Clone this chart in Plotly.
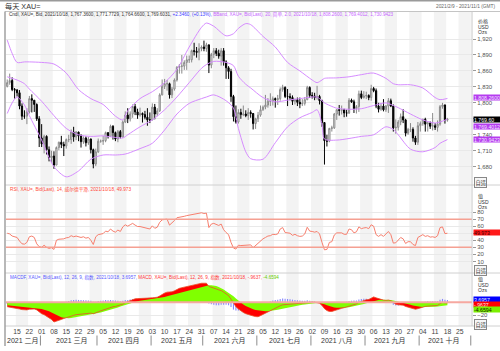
import pandas as pd
import plotly.graph_objects as go

# ---------------- data ----------------
DATES = pd.bdate_range("2021-02-09", "2021-10-18")  # trading days

OPEN = [1831,1838,1842,1825,1824,1819,1794,1775,1775,1783,
        1808,1805,1797,1770,1734,1723,1737,1712,1697,1700,
        1683,1716,1726,1722,1719,1731,1731,1745,1736,1745,
        1738,1727,1734,1725,1732,1712,1685,1708,1728,1728,
        1729,1744,1737,1756,1744,1732,1746,1736,1764,1777,
        1770,1779,1793,1783,1777,1780,1778,1773,1768,1768,
        1792,1779,1785,1815,1831,1836,1836,1815,1826,1843,
        1867,1869,1869,1876,1881,1881,1898,1897,1895,1902,
        1905,1902,1909,1871,1891,1898,1893,1888,1898,1877,
        1866,1859,1812,1774,1764,1782,1778,1779,1776,1782,
        1780,1761,1770,1777,1787,1792,1796,1803,1803,1808,
        1806,1808,1825,1829,1812,1812,1810,1803,1806,1801,
        1798,1799,1806,1829,1814,1813,1810,1812,1804,1763,
        1729,1728,1752,1753,1779,1787,1786,1787,1781,1781,
        1805,1802,1789,1793,1817,1810,1813,1814,1810,1827,
        1823,1794,1788,1794,1787,1794,1804,1794,1753,1754,
        1764,1774,1768,1743,1750,1750,1734,1726,1757,1761,
        1769,1760,1762,1756,1757,1754,1760,1793,1796,1767.36]
HIGH = [1844,1855,1848,1828,1826,1824,1799,1786,1790,1813,
        1816,1805,1799,1775,1760,1740,1739,1718,1710,1709,
        1718,1727,1738,1727,1733,1740,1750,1755,1747,1746,
        1741,1737,1737,1736,1733,1714,1714,1733,1731,1738,
        1746,1745,1759,1758,1746,1749,1749,1767,1784,1790,
        1784,1797,1798,1789,1791,1782,1785,1790,1782,1799,
        1798,1790,1818,1844,1845,1843,1838,1830,1846,1869,
        1873,1890,1880,1889,1889,1900,1913,1905,1912,1908,
        1917,1913,1910,1894,1903,1903,1900,1903,1903,1880,
        1869,1864,1815,1795,1788,1789,1795,1786,1790,1786,
        1781,1772,1783,1795,1795,1815,1809,1818,1812,1810,
        1815,1829,1834,1831,1826,1818,1814,1808,1810,1810,
        1807,1811,1832,1831,1820,1819,1832,1815,1806,1764,
        1740,1753,1757,1781,1788,1796,1795,1789,1787,1809,
        1808,1806,1796,1823,1823,1822,1821,1816,1834,1830,
        1827,1800,1799,1807,1796,1809,1808,1797,1769,1768,
        1780,1788,1770,1753,1762,1754,1738,1764,1765,1770,
        1772,1765,1765,1781,1762,1767,1796,1800,1797,1771.77]
LOW = [1829,1834,1822,1808,1812,1788,1768,1770,1760,1780,
       1782,1783,1766,1717,1717,1705,1703,1690,1687,1676,
       1683,1711,1715,1700,1714,1726,1723,1727,1730,1728,
       1716,1723,1718,1721,1705,1677,1681,1706,1725,1721,
       1726,1733,1736,1731,1728,1726,1733,1735,1762,1762,
       1765,1772,1777,1770,1774,1763,1769,1757,1762,1767,
       1769,1775,1783,1814,1826,1823,1808,1809,1823,1840,
       1855,1855,1862,1862,1875,1876,1889,1885,1880,1897,
       1897,1896,1856,1865,1884,1888,1883,1870,1870,1845,
       1845,1802,1765,1761,1761,1770,1775,1773,1768,1772,
       1750,1751,1764,1774,1785,1788,1791,1794,1795,1791,
       1796,1804,1821,1809,1794,1805,1796,1797,1794,1790,
       1794,1795,1805,1809,1808,1805,1806,1797,1755,1684,
       1718,1726,1746,1751,1768,1776,1778,1773,1774,1779,
       1800,1781,1780,1783,1807,1808,1807,1805,1804,1820,
       1790,1782,1785,1784,1783,1781,1792,1746,1742,1748,
       1758,1762,1737,1740,1745,1727,1721,1721,1746,1757,
       1746,1746,1751,1748,1749,1746,1757,1789,1761,1764.66]
CLOSE = [1838,1842,1825,1824,1819,1794,1775,1775,1783,1808,
         1805,1797,1770,1734,1723,1737,1712,1697,1700,1683,
         1716,1726,1722,1719,1731,1731,1745,1736,1745,1738,
         1727,1734,1725,1732,1712,1685,1708,1728,1728,1729,
         1744,1737,1756,1744,1732,1746,1736,1764,1777,1770,
         1779,1793,1783,1777,1780,1778,1773,1768,1768,1792,
         1779,1785,1815,1831,1836,1836,1815,1826,1843,1867,
         1869,1869,1876,1881,1881,1898,1897,1895,1902,1905,
         1902,1909,1871,1891,1898,1893,1888,1898,1877,1866,
         1859,1812,1774,1764,1782,1778,1779,1776,1782,1780,
         1761,1770,1777,1787,1792,1796,1803,1803,1808,1806,
         1808,1825,1829,1812,1812,1810,1803,1806,1801,1798,
         1799,1806,1829,1814,1813,1810,1812,1804,1763,1729,
         1728,1752,1753,1779,1787,1786,1787,1781,1781,1805,
         1802,1789,1793,1817,1810,1813,1814,1810,1827,1823,
         1794,1788,1794,1787,1794,1804,1794,1753,1754,1764,
         1774,1768,1743,1750,1750,1734,1726,1757,1761,1769,
         1760,1762,1756,1757,1754,1760,1793,1796,1768,1769.60]

# Bollinger band (20, 2.0) values read at sample trading-day positions
BB_IDX = [0, 2, 4, 7, 9, 14, 19, 24, 29, 34, 39, 44, 47, 49, 54, 59, 64, 69, 74, 79,
          81, 84, 89, 92, 94, 97, 99, 104, 109, 114, 119, 124, 126, 128, 129, 134, 139,
          144, 149, 154, 157, 159, 164, 169, 174, 176, 179]
BB_UPPER = [1918, 1893, 1876, 1877, 1877, 1876, 1873, 1856, 1825, 1808, 1797, 1775, 1768,
            1785, 1808, 1821, 1838, 1863, 1905, 1942, 1950, 1944, 1926, 1930, 1940, 1949,
            1947, 1925, 1905, 1876, 1860, 1843, 1838, 1843, 1846, 1847, 1849, 1853, 1856,
            1846, 1836, 1834, 1834, 1828, 1810, 1806, 1808.26]
BB_MID = [1849, 1846, 1843, 1836, 1826, 1803, 1776, 1752, 1740, 1737, 1738, 1735, 1734,
          1740, 1755, 1768, 1787, 1811, 1838, 1865, 1872, 1878, 1876, 1870, 1850, 1835,
          1828, 1810, 1802, 1805, 1808, 1811, 1811, 1804, 1800, 1790, 1788, 1789, 1795,
          1800, 1795, 1791, 1779, 1768, 1762, 1764, 1769.40]
BB_LOWER = [1780, 1800, 1811, 1796, 1776, 1730, 1680, 1661, 1672, 1694, 1702, 1702, 1703,
            1705, 1714, 1724, 1749, 1779, 1799, 1808, 1811, 1815, 1804, 1790, 1752, 1708,
            1695, 1694, 1725, 1755, 1772, 1782, 1787, 1760, 1732, 1730, 1733, 1737, 1740,
            1755, 1750, 1740, 1713, 1708, 1716, 1724, 1730.94]

RSI = [50, 49, 46, 45.5, 44, 39, 35, 34.5, 37, 45,
       46, 44, 35, 31, 30, 33, 30, 28.5, 29.5, 27,
       40, 41.5, 41.5, 42, 43.5, 44, 46.5, 45, 46, 45,
       44, 45, 43, 44, 40, 34, 45, 48, 48.5, 49.5,
       53, 52, 56, 53, 51.5, 54.5, 52.5, 59, 62, 60,
       62, 64, 61.5, 59.5, 59.5, 58.5, 57.5, 56, 56, 60.5,
       57, 58.5, 65.5, 69, 70, 70, 61.5, 64.5, 68, 72,
       72.5, 72.5, 74, 75, 75.5, 77, 77, 77, 78, 79,
       78, 78.5, 58, 63, 64, 62.5, 61, 63, 55, 51,
       48, 37, 29, 27.5, 33, 32.5, 33, 32.5, 34, 33.5,
       29.5, 33, 36, 40, 42, 44, 46, 46.5, 48.5, 48,
       49, 56, 58, 51, 51, 50, 47, 48.5, 46.5, 45.5,
       46, 49, 58.5, 53, 52.5, 51.5, 52.5, 49, 37, 26.5,
       27, 37, 38, 47.5, 50.5, 50, 50.5, 48.5, 48.5, 56,
       55, 50.5, 52, 59, 56.5, 57.5, 58, 56.5, 62, 60,
       48, 45.5, 48, 45.5, 48.5, 52.5, 48, 36, 36.5, 40.5,
       44, 42, 35.5, 38, 38, 34, 32.5, 44, 45.5, 48,
       45.5, 46.5, 44.5, 45, 44, 46.5, 58, 59, 49.5, 49.973]

MACD = [-7.0, -7.5, -8.5, -9.0, -9.5, -10.5, -11.5, -12.0, -12.0, -11.0,
        -10.5, -10.5, -12.0, -15.0, -18.0, -19.5, -22.0, -25.0, -27.0, -31.0,
        -30.0, -28.5, -27.0, -25.5, -24.0, -23.0, -21.5, -20.5, -19.5, -19.0,
        -18.5, -18.0, -17.5, -17.0, -17.0, -18.0, -17.0, -15.0, -13.5, -12.0,
        -10.5, -9.5, -8.0, -7.0, -6.5, -5.5, -5.0, -3.0, -0.5, 1.0,
        3.0, 5.0, 5.5, 5.8, 6.0, 6.0, 6.0, 5.8, 5.8, 7.0,
        7.5, 8.0, 10.0, 12.5, 14.5, 16.0, 16.0, 16.5, 18.0, 20.5,
        22.0, 23.0, 24.0, 25.0, 25.5, 27.0, 28.0, 28.5, 29.5, 30.0,
        30.0, 30.0, 25.0, 24.0, 22.5, 21.0, 19.5, 18.5, 16.0, 13.5,
        10.5, 5.0, -2.0, -7.0, -10.5, -13.5, -16.0, -18.0, -19.5, -20.5,
        -21.5, -22.5, -22.7, -21.0, -19.0, -16.5, -14.5, -12.5, -10.5, -9.0,
        -7.5, -5.5, -4.0, -3.5, -3.0, -2.5, -2.3, -2.0, -1.8, -1.6,
        -1.4, -1.0, 0.5, 0.5, 0.3, 0.0, -0.5, -1.5, -5.0, -10.0,
        -13.0, -14.5, -14.5, -13.0, -11.5, -10.5, -9.5, -8.5, -7.5, -5.5,
        -4.5, -3.5, -2.5, 0.0, 1.5, 3.0, 4.0, 4.5, 7.0, 8.5,
        7.0, 5.5, 4.5, 3.5, 3.0, 3.5, 2.5, -1.0, -3.0, -4.0,
        -4.0, -4.5, -6.5, -7.5, -8.0, -9.5, -11.0, -10.0, -8.5, -7.0,
        -6.5, -6.0, -6.0, -5.5, -5.5, -5.0, -2.0, 0.0, -1.0, -0.9637]

SIGNAL = [-4.5, -4.9, -5.3, -5.7, -6.1, -6.5, -6.9, -7.3, -7.7, -8.1,
          -8.5, -9.0, -9.5, -10.0, -10.7, -11.6, -12.6, -14.0, -16.0, -18.0,
          -20.0, -22.0, -23.5, -24.5, -25.0, -25.0, -24.6, -24.0, -23.4, -22.7,
          -22.0, -21.3, -20.7, -20.0, -19.4, -18.8, -18.0, -17.0, -16.0, -15.0,
          -14.0, -12.8, -11.6, -10.4, -9.2, -8.0, -6.8, -5.5, -4.0, -2.7,
          -1.3, 0.0, 1.0, 1.8, 2.5, 3.0, 3.5, 4.0, 4.5, 5.0,
          5.5, 6.0, 6.5, 7.5, 8.5, 9.5, 10.5, 11.5, 12.5, 13.6,
          14.7, 15.8, 17.0, 18.1, 19.2, 20.3, 21.5, 22.5, 23.5, 24.5,
          25.5, 26.3, 27.0, 27.0, 26.5, 25.5, 24.0, 22.3, 20.0, 17.5,
          15.0, 12.5, 9.5, 6.0, 2.5, -0.5, -3.5, -6.0, -8.0, -9.7,
          -11.0, -12.0, -12.8, -13.5, -14.0, -14.2, -14.2, -13.8, -13.2, -12.5,
          -11.7, -10.8, -9.9, -9.0, -8.1, -7.3, -6.5, -5.8, -5.1, -4.5,
          -3.9, -3.3, -2.6, -2.0, -1.5, -1.2, -1.0, -1.1, -1.8, -3.0,
          -4.5, -6.0, -7.2, -8.0, -8.5, -8.7, -8.7, -8.5, -8.2, -7.7,
          -7.0, -6.3, -5.5, -4.5, -3.5, -2.5, -1.5, -0.5, 1.0, 2.5,
          3.3, 3.8, 4.0, 4.0, 3.8, 3.7, 3.5, 2.8, 2.0, 1.0,
          0.0, -1.0, -2.0, -3.0, -4.0, -5.0, -6.0, -6.8, -7.2, -7.4,
          -7.5, -7.5, -7.4, -7.2, -7.0, -6.7, -6.0, -5.3, -4.9, -4.6594]

MACD_HIST = [-2.5, -2.6, -3.2, -3.3, -3.4, -4.0, -4.6, -4.7, -4.3, -2.9,
             -2.0, -1.5, -2.5, -5.0, -7.3, -7.9, -9.4, -11.0, -11.0, -13.0,
             -10.0, -6.5, -3.5, -1.0, 1.0, 2.0, 3.1, 3.5, 3.9, 3.7,
             3.5, 3.3, 3.2, 3.0, 2.4, 0.8, 1.0, 2.0, 2.5, 3.0,
             3.5, 3.3, 3.6, 3.4, 2.7, 2.5, 1.8, 2.5, 3.5, 3.7,
             4.3, 5.0, 4.5, 4.0, 3.5, 3.0, 2.5, 1.8, 1.3, 2.0,
             2.0, 2.0, 3.5, 5.0, 6.0, 6.5, 5.5, 5.0, 5.5, 6.9,
             7.3, 7.2, 7.0, 6.9, 6.3, 6.7, 6.5, 6.0, 6.0, 5.5,
             4.5, 3.7, -2.0, -3.0, -4.0, -4.5, -4.5, -3.8, -4.0, -4.0,
             -4.5, -7.5, -11.5, -13.0, -13.0, -13.0, -12.5, -12.0, -11.5, -10.8,
             -10.5, -10.5, -9.9, -7.5, -5.0, -2.3, -0.3, 1.3, 2.7, 3.5,
             4.2, 5.3, 5.9, 5.5, 5.1, 4.8, 4.2, 3.8, 3.3, 2.9,
             2.5, 2.3, 3.1, 2.5, 1.8, 1.2, 0.5, -0.4, -3.2, -7.0,
             -8.5, -8.5, -7.3, -5.0, -3.0, -1.8, -0.8, 0.0, 0.7, 2.2,
             2.5, 2.8, 3.0, 4.5, 5.0, 5.5, 5.5, 5.0, 6.0, 6.0,
             3.7, 1.7, 0.5, -0.5, -0.8, -0.2, -1.0, -3.8, -5.0, -5.0,
             -4.0, -3.5, -4.5, -4.5, -4.0, -4.5, -5.0, -3.2, -1.3, 0.4,
             1.0, 1.5, 1.4, 1.7, 1.5, 1.7, 4.0, 5.3, 3.9, 3.6957]

PRICE_TICKS = [1680, 1710, 1740, 1770, 1800, 1830, 1860, 1890, 1920]
PRICE_TICK_TEXT = ["1,680", "1,710", "1,740", "", "1,800", "1,830", "1,860", "1,890", "1,920"]
RSI_TICKS = [10, 20, 30, 40, 50, 60, 70, 80]
RSI_TICK_TEXT = ["10", "20", "30", "40", "", "60", "70", "80"]
MACD_TICKS = [-20]
WEEK_TICKS = pd.date_range("2021-02-15", "2021-10-25", freq="7D")
MONTH_LABELS = ["2021 二月", "2021 三月", "2021 四月", "2021 五月", "2021 六月",
                "2021 七月", "2021 八月", "2021 九月", "2021 十月"]
MONTH_LABEL_X = ["2021-02-18 00:00", "2021-03-17 18:00", "2021-04-15 21:00",
                 "2021-05-17 12:00", "2021-06-16 00:00", "2021-07-16 08:00",
                 "2021-08-16 14:00", "2021-09-15 08:00", "2021-10-15 05:00"]
MONTH_STARTS = ["2021-03-01", "2021-04-01", "2021-05-03", "2021-06-01", "2021-07-01",
                "2021-08-02", "2021-09-01", "2021-10-01", "2021-11-01"]

# ---------------- helpers ----------------
W, H = 500, 351
def X(px): return px / W
def Y(py): return 1 - py / H

FONT = "Liberation Sans, Noto Sans CJK SC, sans-serif"
XD = DATES + pd.Timedelta(hours=12)
BBX = [XD[i] for i in BB_IDX]
BB_COLOR = "#d68cff"

fig = go.Figure()

# Candles
fig.add_trace(go.Candlestick(
    x=XD, open=OPEN, high=HIGH, low=LOW, close=CLOSE,
    increasing=dict(line=dict(color="#8a8a8a", width=1), fillcolor="#ffffff"),
    decreasing=dict(line=dict(color="#000000", width=1), fillcolor="#000000"),
    xaxis="x", yaxis="y", hoverinfo="skip"))
# Bollinger bands
for arr in (BB_UPPER, BB_MID, BB_LOWER):
    fig.add_trace(go.Scatter(x=BBX, y=arr, mode="lines",
                             line=dict(color=BB_COLOR, width=1, shape="spline", smoothing=0.8),
                             xaxis="x", yaxis="y", hoverinfo="skip"))
# RSI
fig.add_trace(go.Scatter(x=XD, y=RSI, mode="lines", line=dict(color="#f77f6e", width=1),
                         xaxis="x", yaxis="y2", hoverinfo="skip"))
# MACD red fill, signal green fill, MACD line, histogram
fig.add_trace(go.Scatter(x=XD, y=MACD, mode="lines", fill="tozeroy", fillcolor="#ff0000",
                         line=dict(width=0, color="#ff0000"), xaxis="x", yaxis="y3", hoverinfo="skip"))
fig.add_trace(go.Scatter(x=XD, y=SIGNAL, mode="lines", fill="tozeroy", fillcolor="#80ff00",
                         line=dict(width=0, color="#80ff00"), xaxis="x", yaxis="y3", hoverinfo="skip"))
fig.add_trace(go.Scatter(x=XD, y=MACD, mode="lines", line=dict(width=0.8, color="#e8502a"),
                         xaxis="x", yaxis="y3", hoverinfo="skip"))
fig.add_trace(go.Bar(x=XD, y=MACD_HIST, width=0.45 * 86400000,
                     marker=dict(color="rgba(105,105,255,0.8)", line=dict(width=0)),
                     xaxis="x", yaxis="y3", hoverinfo="skip"))

shapes = []
# weekly alternating background bands
for d in pd.date_range("2021-02-15", "2021-10-25", freq="14D"):
    shapes.append(dict(type="rect", xref="x", yref="paper", x0=d, x1=d + pd.Timedelta(days=7),
                       y0=Y(326), y1=Y(12), fillcolor="#f3f3f3", line=dict(width=0), layer="below"))
# RSI 70 / 30 lines
for v in (70, 30):
    shapes.append(dict(type="line", xref="paper", yref="y2", x0=X(6), x1=X(472), y0=v, y1=v,
                       line=dict(color="#f5a092", width=1.5)))
# MACD zero line
shapes.append(dict(type="line", xref="paper", yref="y3", x0=X(6), x1=X(472), y0=0, y1=0,
                   line=dict(color="#f6a8a0", width=2)))
# frame lines
for py, col, wd in ((0.8, "#9a9a9a", 1.6), (11.5, "#c4c4c4", 1), (185, "#d0d0d0", 1),
                    (273, "#d0d0d0", 1), (326, "#d0d0d0", 1)):
    shapes.append(dict(type="line", xref="paper", yref="paper", x0=X(5) if py > 5 else 0, x1=1,
                       y0=Y(py), y1=Y(py), line=dict(color=col, width=wd)))
shapes.append(dict(type="line", xref="paper", yref="paper", x0=X(5), x1=X(5), y0=Y(11.5), y1=Y(346),
                   line=dict(color="#a0a0a0", width=1.5)))
shapes.append(dict(type="line", xref="paper", yref="paper", x0=X(472), x1=X(472), y0=Y(11.5), y1=Y(326),
                   line=dict(color="#c8c8c8", width=1)))
# month separators
for d in MONTH_STARTS:
    shapes.append(dict(type="line", xref="x", yref="paper", x0=d, x1=d, y0=Y(335.5), y1=Y(345.5),
                       line=dict(color="#8c8c8c", width=1)))

ann = []
def text(px, py, s, size, color="#333", xanchor="left", **kw):
    ann.append(dict(xref="paper", yref="paper", x=X(px), y=Y(py), text=s, showarrow=False,
                    xanchor=xanchor, yanchor="middle", font=dict(size=size, color=color, family=FONT),
                    **kw))

text(3, 6, "每天 XAU=", 7.2, "#333")
text(498, 6, "2021/2/9 - 2021/11/1 (GMT)", 4.8, "#666", xanchor="right")
text(7, 14.8,
     '<span style="color:#333">Cndl, XAU=, Bid, 2021/10/18, 1,767.3600, 1,771.7729, 1,764.6600, 1,769.6031, </span>'
     '<span style="color:#3b3bff">+2.3460, (+0.13%), </span>'
     '<span style="color:#c765ff">BBand, XAU=, Bid(Last), 20, 简单, 2.0, 2021/10/18, 1,808.2600, 1,769.4012, 1,730.9423</span>',
     4.6)
text(8, 189.5, "RSI, XAU=, Bid(Last), 14, 威尔德平滑, 2021/10/18, 49.973", 4.7, "#ff4a3a")
text(8, 277.5,
     '<span style="color:#5a5aff">MACDF, XAU=, Bid(Last), 12, 26, 9, 指数, 2021/10/18, 3.6957, </span>'
     '<span style="color:#ff3a3a">MACD, XAU=, Bid(Last), 12, 26, 9, 指数, 2021/10/18, -.9637, </span>'
     '<span style="color:#66cc00">-4.6594</span>', 4.6)

# axis unit labels
for py, s in ((21, "价格"), (26.5, "USD"), (32, "Ozs"),
              (196, "值"), (201.5, "USD"), (206.7, "Ozs"),
              (279, "值"), (284.5, "USD"), (290, "Ozs")):
    text(476, py, s, 5, "#333")
# auto-scale buttons
for py in (182.7, 270.7, 324.7):
    text(474, py, "自适", 5.2, "#333", bordercolor="#888", borderwidth=1, borderpad=0.5, bgcolor="#f7f7f7")
# value boxes
for py, s, bg, fg, hh in ((97.8, "1,808.2600", "#b63cf0", "#f4e4ff", 5.0),
                          (119.2, "1,769.60", "#000000", "#ffffff", 5.4),
                          (126.2, "1,769.4012", "#b63cf0", "#f4e4ff", 5.4),
                          (139.8, "1,730.9423", "#b63cf0", "#f4e4ff", 5.4),
                          (232.3, "49.973", "#ff1a1a", "#3a0000", 5.4),
                          (299.3, "3.6957", "#0000ff", "#e8e8ff", 5.4),
                          (304.3, "-.9637", "#ff0000", "#ffe8e8", 5.4),
                          (309.3, "-4.6594", "#7cf000", "#102000", 5.4)):
    text(473, py, s, 5.2, fg, bgcolor=bg, width=27, height=hh, align="left", borderpad=0)
# month labels
for xs, s in zip(MONTH_LABEL_X, MONTH_LABELS):
    ann.append(dict(xref="x", yref="paper", x=xs, y=Y(340.5), text=s, showarrow=False,
                    xanchor="center", yanchor="middle", font=dict(size=7, color="#333", family=FONT)))

yax = dict(side="right", anchor="x", showgrid=True, gridcolor="#e9e9e9", gridwidth=1, zeroline=False,
           ticks="outside", ticklen=3, tickcolor="#999", tickwidth=1, automargin=False,
           tickfont=dict(size=6, color="#555", family=FONT), fixedrange=True, showline=False)

fig.update_layout(
    width=W, height=H, margin=dict(l=0, r=0, t=0, b=0, pad=0),
    paper_bgcolor="#ffffff", plot_bgcolor="#ffffff", showlegend=False, hovermode=False,
    barmode="overlay",
    xaxis=dict(domain=[X(6), X(472)], anchor="y3", type="date",
               range=["2021-02-09", "2021-11-01 12:00"],
               rangebreaks=[dict(bounds=["sat", "mon"])],
               rangeslider=dict(visible=False),
               tickvals=[d + pd.Timedelta(hours=12) for d in WEEK_TICKS],
               ticktext=[d.strftime("%d") for d in WEEK_TICKS],
               ticks="", showgrid=False, zeroline=False, showline=False, automargin=False,
               tickfont=dict(size=6.8, color="#444", family=FONT), fixedrange=True),
    yaxis=dict(yax, domain=[Y(185), Y(12)], range=[1645.6, 1970.8],
               tickvals=PRICE_TICKS, ticktext=PRICE_TICK_TEXT),
    yaxis2=dict(yax, domain=[Y(273), Y(185)], range=[-6.4, 118.4],
                tickvals=RSI_TICKS, ticktext=RSI_TICK_TEXT),
    yaxis3=dict(yax, domain=[Y(326), Y(273)], range=[-37.3, 46.1], tickvals=MACD_TICKS),
    shapes=shapes, annotations=ann,
)

fig.write_html("out.html")
